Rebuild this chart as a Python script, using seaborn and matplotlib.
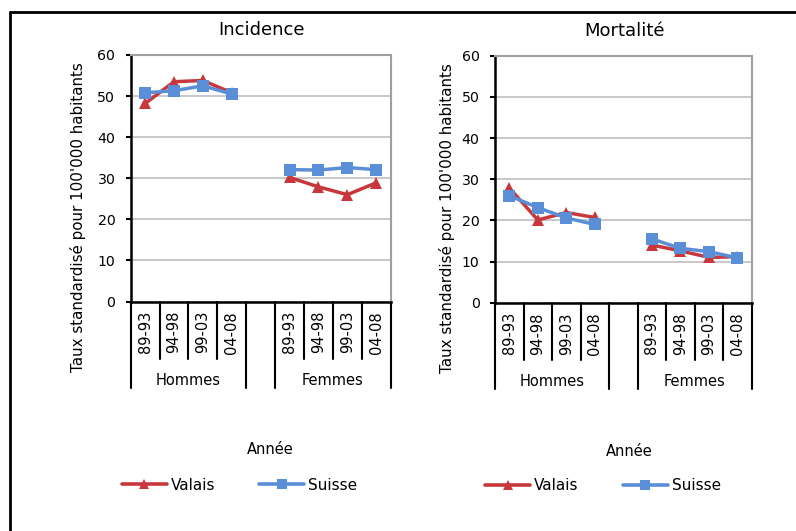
import matplotlib
matplotlib.use('Agg')
import matplotlib.pyplot as plt
import seaborn as sns
import pandas as pd
from matplotlib.lines import Line2D
from matplotlib import transforms

# ---- data ----
periods = ['89-93', '94-98', '99-03', '04-08']
groups = ['Hommes', 'Femmes']
series = ['Valais', 'Suisse']
panels = ['Incidence', 'Mortalité']

inc_valais_h = [48.2, 53.5, 53.8, 50.8]
inc_valais_f = [30.2, 27.9, 26.0, 28.9]
inc_suisse_h = [50.8, 51.3, 52.5, 50.5]
inc_suisse_f = [32.1, 32.0, 32.6, 32.1]

mort_valais_h = [27.9, 20.1, 21.9, 20.7]
mort_valais_f = [14.0, 12.6, 11.0, 11.2]
mort_suisse_h = [26.0, 23.1, 20.6, 19.0]
mort_suisse_f = [15.5, 13.2, 12.4, 10.9]

yticks = [0, 10, 20, 30, 40, 50, 60]
ylabel = "Taux standardisé pour 100'000 habitants"
xlabel = "Année"

values = {
    ('Incidence', 'Valais', 'Hommes'): inc_valais_h,
    ('Incidence', 'Valais', 'Femmes'): inc_valais_f,
    ('Incidence', 'Suisse', 'Hommes'): inc_suisse_h,
    ('Incidence', 'Suisse', 'Femmes'): inc_suisse_f,
    ('Mortalité', 'Valais', 'Hommes'): mort_valais_h,
    ('Mortalité', 'Valais', 'Femmes'): mort_valais_f,
    ('Mortalité', 'Suisse', 'Hommes'): mort_suisse_h,
    ('Mortalité', 'Suisse', 'Femmes'): mort_suisse_f,
}

rows = []
for (panel, serie, grp), vals in values.items():
    gi = groups.index(grp)
    for pi, v in enumerate(vals):
        rows.append(dict(panel=panel, serie=serie, groupe=grp,
                         periode=periods[pi], pos=pi + gi * (len(periods) + 1),
                         value=v))
df = pd.DataFrame(rows)

# ---- style ----
sns.set_theme(style='white')
plt.rcParams['font.family'] = ['DejaVu Sans']
plt.rcParams['text.color'] = 'black'
plt.rcParams['axes.labelcolor'] = 'black'

palette = {'Valais': '#C8373B', 'Suisse': '#5A8FD8'}
markers = {'Valais': '^', 'Suisse': 's'}

W, H = 796, 531
fig = plt.figure(figsize=(W / 100, H / 100), dpi=100)

axes_px = {
    'Incidence': (130.7, 55.0, 390.7, 301.5),
    'Mortalité': (495.0, 55.7, 751.7, 302.7),
}
title_pos = {'Incidence': (262, 30), 'Mortalité': (625, 31)}
annee_pos = {'Incidence': (270, 450), 'Mortalité': (629, 451.5)}
legend_pos = {'Incidence': (121.7, 485), 'Mortalité': (485.0, 486)}
ylabel_anchor_px = {'Incidence': 86.0, 'Mortalité': 455.0}

n_slots = len(groups) * len(periods) + (len(groups) - 1)

for panel in panels:
    x0, y0, x1, y1 = axes_px[panel]
    ax = fig.add_axes([x0 / W, 1 - y1 / H, (x1 - x0) / W, (y1 - y0) / H])
    d = df[df.panel == panel]
    sns.lineplot(data=d, x='pos', y='value', hue='serie', style='serie',
                 units='groupe', estimator=None, sort=False,
                 hue_order=series, style_order=series,
                 palette=palette, markers=markers, dashes=False,
                 markersize=9, linewidth=2.5, markeredgewidth=0,
                 legend=False, ax=ax, zorder=3)

    ax.set_xlim(-0.5, n_slots - 0.5)
    ax.set_ylim(0, 60)
    ax.set_yticks(yticks)
    ax.set_xticks([])
    ax.set_xlabel('')
    ax.yaxis.grid(True, color='#C4C4C4', linewidth=1.3)
    ax.set_axisbelow(True)
    for s in ['top', 'right']:
        ax.spines[s].set_color('#A0A0A0')
        ax.spines[s].set_linewidth(1.5)
    for s in ['left', 'bottom']:
        ax.spines[s].set_color('black')
        ax.spines[s].set_linewidth(1.8)
    ax.tick_params(axis='y', direction='out', length=3.6, width=1.5,
                   pad=7.5, labelsize=10.2, colors='black', left=True)
    ax.set_ylabel(ylabel, fontsize=10.9)
    ax.yaxis.set_label_coords((ylabel_anchor_px[panel] - x0) / (x1 - x0), 0.343)

    # hierarchical category axis
    trans = transforms.blended_transform_factory(ax.transData, ax.transAxes)
    ah = y1 - y0
    short = 57.0 / ah
    long_ = 86.5 / ah
    bounds = [b - 0.5 for b in range(n_slots + 1)]
    long_bounds = {-0.5, len(periods) - 0.5, len(periods) + 0.5, n_slots - 0.5}
    for b in bounds:
        ln = long_ if b in long_bounds else short
        ax.add_line(Line2D([b, b], [0, -ln], transform=trans, clip_on=False,
                           color='black', linewidth=1.5))
    for gi, grp in enumerate(groups):
        base = gi * (len(periods) + 1)
        for pi, per in enumerate(periods):
            ax.text(base + pi, -9.5 / ah, per, transform=trans, rotation=90,
                    ha='center', va='top', fontsize=10.5)
        ax.text(base + (len(periods) - 1) / 2, -78.5 / ah, grp, transform=trans,
                ha='center', va='center', fontsize=10.5)

    tx, ty = title_pos[panel]
    fig.text(tx / W, 1 - ty / H, panel, ha='center', va='center', fontsize=13)
    axp, ayp = annee_pos[panel]
    fig.text(axp / W, 1 - ayp / H, xlabel, ha='center', va='center', fontsize=10.5)

    handles = [Line2D([], [], color=palette[s], marker=markers[s], lw=2.6,
                      markersize=6.5, markeredgewidth=0) for s in series]
    lx, ly = legend_pos[panel]
    fig.legend(handles, series, loc='center left',
               bbox_to_anchor=(lx / W, 1 - ly / H), ncol=2, frameon=False,
               fontsize=11, handlelength=2.95, handletextpad=0.25,
               columnspacing=2.9, borderpad=0, borderaxespad=0)

# outer border (top and left)
fig.add_artist(Line2D([10 / W, 1], [1 - 12 / H, 1 - 12 / H],
                      transform=fig.transFigure, color='black', lw=2))
fig.add_artist(Line2D([10 / W, 10 / W], [0, 1 - 12 / H],
                      transform=fig.transFigure, color='black', lw=2))

fig.savefig('out.png', dpi=100)
